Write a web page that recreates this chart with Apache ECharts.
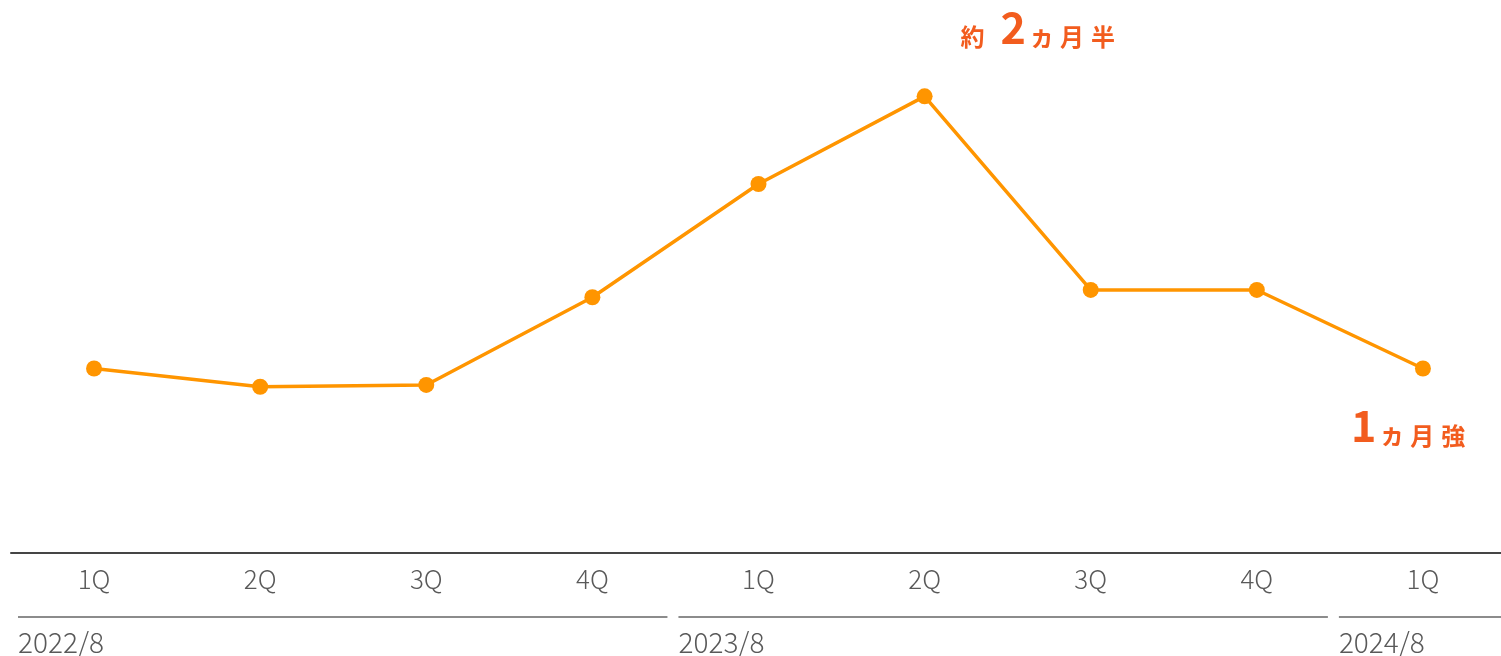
<!DOCTYPE html>
<html>
<head>
<meta charset="utf-8">
<script src="https://cdn.jsdelivr.net/npm/echarts@6/dist/echarts.min.js"></script>
<style>
  html, body { margin: 0; padding: 0; background: #fff; overflow: hidden; }
  #chart { width: 1506px; height: 656px; }
</style>
</head>
<body>
<div id="chart"></div>
<script>
// Quarter labels along the axis
const quarters = ['1Q', '2Q', '3Q', '4Q', '1Q', '2Q', '3Q', '4Q', '1Q'];
// Duration in months for each quarter
const months = [1.01, 0.91, 0.92, 1.40, 2.02, 2.50, 1.44, 1.44, 1.01];
// Fiscal-year groups under the quarter labels
const yearLabels = ['2022/8', '2023/8', '2024/8'];
const yearStart = [0, 4, 8];
const yearEnd = [3, 7, 8];

const FONT = '"Noto Sans CJK JP", "Noto Sans", sans-serif';
const ACCENT = '#F25C1E';
const LINE = '#FF9500';

const chart = echarts.init(document.getElementById('chart'), null, { renderer: 'canvas' });

const data = months.map((v, i) => {
  const d = { value: v };
  if (i === 5) {
    d.label = {
      show: true, position: 'inside', offset: [36, -47],
      formatter: '{k1|約}{n|2}{s|ヵ}{k|月}{e|半}'
    };
  }
  if (i === 8) {
    d.label = {
      show: true, position: 'inside', offset: [-72, 79],
      formatter: '{n|1}{s|ヵ}{k|月}{e|強}'
    };
  }
  return d;
});

const base = { fontFamily: FONT, fontWeight: 'bold', color: ACCENT, verticalAlign: 'bottom' };
const richStyle = {
  k1: Object.assign({}, base, { fontSize: 24, lineHeight: 24, padding: [0, 16, 0, 0] }),
  n: Object.assign({}, base, { fontSize: 43, lineHeight: 43, padding: [0, 3, 0, 0] }),
  s: Object.assign({}, base, { fontSize: 26, lineHeight: 26, padding: [0, 5, 0, 0] }),
  k: Object.assign({}, base, { fontSize: 24, lineHeight: 24, padding: [0, 7, 0, 0] }),
  e: Object.assign({}, base, { fontSize: 24, lineHeight: 24 })
};

chart.setOption({
  animation: false,
  grid: { left: 11, right: 0, top: 5, bottom: 103 },
  xAxis: {
    type: 'category',
    data: quarters,
    boundaryGap: true,
    axisLine: { lineStyle: { color: '#454545', width: 2 } },
    axisTick: { show: false },
    axisLabel: { color: '#595959', fontSize: 26, fontFamily: FONT, fontWeight: 300, margin: 13 }
  },
  yAxis: {
    type: 'value', min: 0, max: 3,
    show: false, splitLine: { show: false }
  },
  series: [{
    type: 'line',
    data: data,
    symbol: 'circle',
    symbolSize: 16,
    lineStyle: { color: LINE, width: 3.5 },
    itemStyle: { color: LINE },
    label: { show: false, rich: richStyle, align: 'left', verticalAlign: 'bottom' }
  }]
});

// Year group lines and labels, positioned from the category axis
function drawGroups() {
  const step = chart.convertToPixel({ xAxisIndex: 0 }, 1) -
               chart.convertToPixel({ xAxisIndex: 0 }, 0);
  const elements = [];
  const w = chart.getWidth();
  yearLabels.forEach((label, g) => {
    // group rules sit slightly inside the category band, with a small gap between years
    const x0 = chart.convertToPixel({ xAxisIndex: 0 }, yearStart[g]) - step / 2 + 7 - yearStart[g];
    let x1 = chart.convertToPixel({ xAxisIndex: 0 }, yearEnd[g]) + step / 2 - 8 - yearStart[g];
    if (g === yearLabels.length - 1) x1 = w;
    elements.push({
      type: 'line',
      shape: { x1: x0, y1: 617, x2: x1, y2: 617 },
      style: { stroke: '#666', lineWidth: 1.5 }
    });
    elements.push({
      type: 'text',
      x: x0, y: 642,
      style: {
        text: label, fill: '#595959', font: '300 28px ' + FONT,
        textAlign: 'left', textVerticalAlign: 'middle'
      }
    });
  });
  chart.setOption({ graphic: elements });
}
drawGroups();
</script>
</body>
</html>
